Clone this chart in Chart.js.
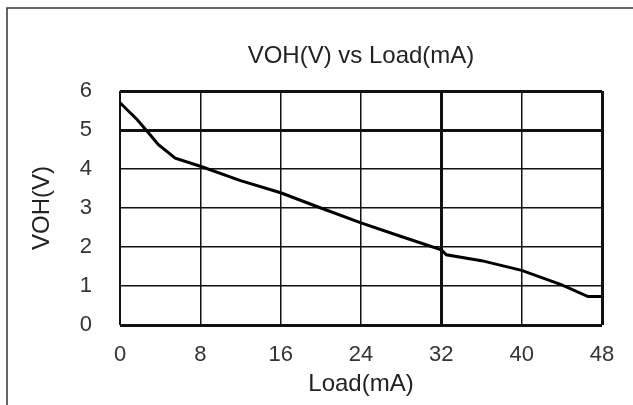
<!DOCTYPE html>
<html>
<head>
<meta charset="utf-8">
<script src="https://cdn.jsdelivr.net/npm/chart.js@4/dist/chart.umd.min.js"></script>
<style>
  html, body { margin: 0; padding: 0; background: #fff; overflow: hidden; }
  #wrap { width: 633px; height: 405px; }
</style>
</head>
<body>
<div id="wrap"><canvas id="voh-chart" width="633" height="405"></canvas></div>
<script>
  // values
  const loadMA = [0, 1.7, 3, 3.8, 5.5, 8, 12, 16, 20, 24, 28, 32, 32.5, 36, 40, 44, 46.6, 48];
  const vohV = [5.7, 5.27, 4.88, 4.63, 4.28, 4.07, 3.7, 3.39, 3.0, 2.62, 2.27, 1.93, 1.8, 1.65, 1.4, 1.03, 0.73, 0.73];
  const xTicks = [0, 8, 16, 24, 32, 40, 48];
  const yTicks = [0, 1, 2, 3, 4, 5, 6];
  const thickX = [32, 48];
  const thickY = [0, 5, 6];

  const font = "'Liberation Sans', Arial, sans-serif";

  // outer frame and centred title, like the datasheet image
  const framePlugin = {
    id: 'frame',
    beforeDraw(chart) {
      const ctx = chart.ctx;
      ctx.save();
      ctx.fillStyle = '#fff';
      ctx.fillRect(0, 0, chart.width, chart.height);
      ctx.strokeStyle = '#333';
      ctx.lineWidth = 1.5;
      ctx.strokeRect(7, 8, 700, 500);
      ctx.restore();
    },
    afterDraw(chart) {
      const ctx = chart.ctx;
      const area = chart.chartArea;
      ctx.save();
      ctx.fillStyle = '#222';
      ctx.font = '24px ' + font;
      ctx.textAlign = 'center';
      ctx.textBaseline = 'middle';
      ctx.fillText('VOH(V) vs Load(mA)', (area.left + area.right) / 2, 56);
      ctx.restore();
    }
  };

  const points = loadMA.map((x, i) => ({ x: x, y: vohV[i] }));

  new Chart(document.getElementById('voh-chart'), {
    type: 'line',
    data: {
      datasets: [{
        label: 'VOH(V)',
        data: points,
        borderColor: '#000',
        borderWidth: 3,
        pointRadius: 0,
        tension: 0,
        fill: false
      }]
    },
    options: {
      responsive: false,
      animation: false,
      layout: { padding: { left: 10, right: 31, top: 91, bottom: 0 } },
      plugins: {
        legend: { display: false },
        tooltip: { enabled: false }
      },
      scales: {
        x: {
          type: 'linear',
          min: 0,
          max: 48,
          afterFit: scale => { scale.height = 80; },
          afterBuildTicks: scale => { scale.ticks = xTicks.map(v => ({ value: v })); },
          border: { display: false },
          grid: {
            color: '#111',
            drawTicks: false,
            lineWidth: c => thickX.includes(c.tick.value) ? 3 : (c.tick.value === 0 ? 2 : 1.5)
          },
          ticks: {
            padding: 17,
            color: '#333',
            font: { family: font, size: 22 }
          },
          title: {
            display: true,
            text: 'Load(mA)',
            color: '#222',
            font: { family: font, size: 24 },
            padding: { top: 0, bottom: 6 }
          }
        },
        y: {
          min: 0,
          max: 6,
          afterFit: scale => { scale.width = 110; },
          afterBuildTicks: scale => { scale.ticks = yTicks.map(v => ({ value: v })); },
          border: { display: false },
          grid: {
            color: '#111',
            drawTicks: false,
            lineWidth: c => thickY.includes(c.tick.value) ? 3 : 1.5
          },
          ticks: {
            padding: 28,
            color: '#333',
            font: { family: font, size: 22 }
          },
          title: {
            display: true,
            text: 'VOH(V)',
            color: '#222',
            font: { family: font, size: 24 },
            padding: { top: 18, bottom: 0 }
          }
        }
      }
    },
    plugins: [framePlugin]
  });
</script>
</body>
</html>
